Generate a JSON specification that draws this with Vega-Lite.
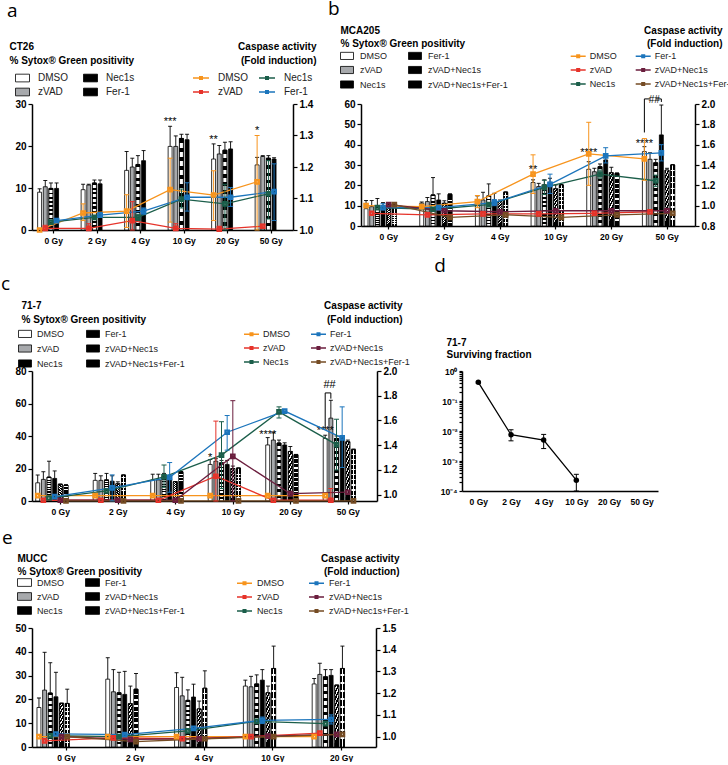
{
"$schema":"https://vega.github.io/schema/vega-lite/v6.json",
"padding":0,
"spacing":12,
"resolve":{"scale":{"fill":"independent","stroke":"independent"},"legend":{"fill":"independent","stroke":"independent"}},
"config":{"font":"Liberation Sans","view":{"stroke":null},
"axis":{"domainColor":"#000","tickColor":"#000","labelColor":"#000","titleColor":"#000","grid":false,"labelFontWeight":"bold","labelFontSize":10,"domainWidth":1.5,"tickWidth":1.2,"tickSize":4,"titleFontSize":10,"titleFontWeight":"bold","labelOverlap":false},
"legend":{"labelFontSize":9,"labelColor":"#222","padding":0,"labelFont":"Liberation Sans"}},
"datasets":{
"a_bars":[
{"d":"0 Gy","t":"DMSO","v":9.0,"e":9.8},{"d":"0 Gy","t":"zVAD","v":10.3,"e":11.8},{"d":"0 Gy","t":"Nec1s","v":9.9,"e":11.2},{"d":"0 Gy","t":"Fer-1","v":9.9,"e":11.2},
{"d":"2 Gy","t":"DMSO","v":9.6,"e":10.9},{"d":"2 Gy","t":"zVAD","v":10.7,"e":10.9},{"d":"2 Gy","t":"Nec1s","v":11.2,"e":11.9},{"d":"2 Gy","t":"Fer-1","v":11.0,"e":11.9},
{"d":"4 Gy","t":"DMSO","v":14.2,"e":18.7},{"d":"4 Gy","t":"zVAD","v":15.0,"e":17.1},{"d":"4 Gy","t":"Nec1s","v":15.6,"e":17.7},{"d":"4 Gy","t":"Fer-1","v":16.5,"e":18.9},
{"d":"10 Gy","t":"DMSO","v":19.9,"e":24.7},{"d":"10 Gy","t":"zVAD","v":19.9,"e":22.4},{"d":"10 Gy","t":"Nec1s","v":21.8,"e":22.8},{"d":"10 Gy","t":"Fer-1","v":21.5,"e":22.8},
{"d":"20 Gy","t":"DMSO","v":16.9,"e":20.5},{"d":"20 Gy","t":"zVAD","v":18.1,"e":20.1},{"d":"20 Gy","t":"Nec1s","v":19.0,"e":20.9},{"d":"20 Gy","t":"Fer-1","v":19.3,"e":21.0},
{"d":"50 Gy","t":"DMSO","v":15.5,"e":17.3},{"d":"50 Gy","t":"zVAD","v":17.5,"e":17.7},{"d":"50 Gy","t":"Nec1s","v":17.1,"e":17.7},{"d":"50 Gy","t":"Fer-1","v":16.9,"e":17.2}],
"a_stars":[{"d":"10 Gy","t":"DMSO","v":25.6,"s":"***"},{"d":"20 Gy","t":"DMSO","v":21.5,"s":"**"},{"d":"50 Gy","t":"DMSO","v":23.6,"s":"*"}],
"a_lines":[
{"d":"0 Gy","t":"DMSO","v":1.0,"lo":1.0,"hi":1.0},{"d":"2 Gy","t":"DMSO","v":1.054,"lo":1.03,"hi":1.083},{"d":"4 Gy","t":"DMSO","v":1.06,"lo":1.008,"hi":1.112},{"d":"10 Gy","t":"DMSO","v":1.128,"lo":1.025,"hi":1.228},{"d":"20 Gy","t":"DMSO","v":1.111,"lo":1.03,"hi":1.188},{"d":"50 Gy","t":"DMSO","v":1.153,"lo":1.0,"hi":1.3},
{"d":"0 Gy","t":"zVAD","v":1.005,"lo":1.0,"hi":1.015},{"d":"2 Gy","t":"zVAD","v":1.005,"lo":1.0,"hi":1.02},{"d":"4 Gy","t":"zVAD","v":1.03,"lo":1.0,"hi":1.09},{"d":"10 Gy","t":"zVAD","v":1.005,"lo":1.0,"hi":1.02},{"d":"20 Gy","t":"zVAD","v":1.003,"lo":1.0,"hi":1.012},{"d":"50 Gy","t":"zVAD","v":1.012,"lo":1.005,"hi":1.018},
{"d":"0 Gy","t":"Nec1s","v":1.025,"lo":1.02,"hi":1.03},{"d":"2 Gy","t":"Nec1s","v":1.04,"lo":1.035,"hi":1.045},{"d":"4 Gy","t":"Nec1s","v":1.04,"lo":1.03,"hi":1.05},{"d":"10 Gy","t":"Nec1s","v":1.098,"lo":1.07,"hi":1.13},{"d":"20 Gy","t":"Nec1s","v":1.083,"lo":1.0,"hi":1.145},{"d":"50 Gy","t":"Nec1s","v":1.115,"lo":1.035,"hi":1.22},
{"d":"0 Gy","t":"Fer-1","v":1.03,"lo":1.025,"hi":1.035},{"d":"2 Gy","t":"Fer-1","v":1.047,"lo":1.04,"hi":1.055},{"d":"4 Gy","t":"Fer-1","v":1.06,"lo":1.05,"hi":1.07},{"d":"10 Gy","t":"Fer-1","v":1.104,"lo":1.06,"hi":1.15},{"d":"20 Gy","t":"Fer-1","v":1.104,"lo":1.075,"hi":1.135},{"d":"50 Gy","t":"Fer-1","v":1.122,"lo":1.03,"hi":1.21}],
"b_bars":[
{"d":"0 Gy","t":"DMSO","v":8.5,"e":12.5},{"d":"0 Gy","t":"zVAD","v":9.5,"e":12.5},{"d":"0 Gy","t":"Nec1s","v":9.5,"e":13.5},{"d":"0 Gy","t":"Fer-1","v":9.5,"e":11.5},{"d":"0 Gy","t":"zVAD+Nec1s","v":10.2,"e":10.8},{"d":"0 Gy","t":"zVAD+Nec1s+Fer-1","v":10.2,"e":10.6},
{"d":"2 Gy","t":"DMSO","v":11.2,"e":11.8},{"d":"2 Gy","t":"zVAD","v":12.0,"e":14.0},{"d":"2 Gy","t":"Nec1s","v":15.3,"e":23.8},{"d":"2 Gy","t":"Fer-1","v":12.8,"e":15.8},{"d":"2 Gy","t":"zVAD+Nec1s","v":11.2,"e":12.4},{"d":"2 Gy","t":"zVAD+Nec1s+Fer-1","v":15.6,"e":15.8},
{"d":"4 Gy","t":"DMSO","v":13.0,"e":14.8},{"d":"4 Gy","t":"zVAD","v":12.8,"e":16.6},{"d":"4 Gy","t":"Nec1s","v":14.8,"e":20.7},{"d":"4 Gy","t":"Fer-1","v":12.3,"e":16.1},{"d":"4 Gy","t":"zVAD+Nec1s","v":12.0,"e":12.8},{"d":"4 Gy","t":"zVAD+Nec1s+Fer-1","v":16.6,"e":16.8},
{"d":"10 Gy","t":"DMSO","v":21.4,"e":22.7},{"d":"10 Gy","t":"zVAD","v":19.4,"e":21.0},{"d":"10 Gy","t":"Nec1s","v":20.2,"e":22.7},{"d":"10 Gy","t":"Fer-1","v":21.5,"e":23.5},{"d":"10 Gy","t":"zVAD+Nec1s","v":18.3,"e":20.2},{"d":"10 Gy","t":"zVAD+Nec1s+Fer-1","v":20.2,"e":20.4},
{"d":"20 Gy","t":"DMSO","v":27.9,"e":31.6},{"d":"20 Gy","t":"zVAD","v":26.7,"e":28.4},{"d":"20 Gy","t":"Nec1s","v":29.2,"e":30.5},{"d":"20 Gy","t":"Fer-1","v":32.5,"e":34.0},{"d":"20 Gy","t":"zVAD+Nec1s","v":26.2,"e":28.9},{"d":"20 Gy","t":"zVAD+Nec1s+Fer-1","v":25.9,"e":26.1},
{"d":"50 Gy","t":"DMSO","v":36.6,"e":39.0},{"d":"50 Gy","t":"zVAD","v":32.8,"e":36.0},{"d":"50 Gy","t":"Nec1s","v":31.1,"e":32.8},{"d":"50 Gy","t":"Fer-1","v":44.8,"e":59.5},{"d":"50 Gy","t":"zVAD+Nec1s","v":27.5,"e":28.4},{"d":"50 Gy","t":"zVAD+Nec1s+Fer-1","v":30.0,"e":30.2}],
"b_stars":[{"d":"10 Gy","t":"DMSO","v":27.5,"s":"**"},{"d":"20 Gy","t":"DMSO","v":35.9,"s":"****"},{"d":"50 Gy","t":"DMSO","v":40.3,"s":"****"}],
"b_br":[{"d":"50 Gy","t":"DMSO","v":46,"g":"L"},{"d":"50 Gy","t":"DMSO","v":62.5,"g":"L"},{"d":"50 Gy","t":"zVAD","v":62.5,"g":"L"},{"d":"50 Gy","t":"Nec1s","v":62.5,"g":"R"},{"d":"50 Gy","t":"Fer-1","v":62.5,"g":"R"},{"d":"50 Gy","t":"Fer-1","v":61,"g":"R"}],
"b_hash":[{"d":"50 Gy","t":"zVAD","v":62.0,"s":"##"}],
"b_lines":[
{"d":"0 Gy","t":"DMSO","v":1.0,"lo":1.0,"hi":1.0},{"d":"2 Gy","t":"DMSO","v":0.99,"lo":0.98,"hi":1.0},{"d":"4 Gy","t":"DMSO","v":1.04,"lo":0.98,"hi":1.1},{"d":"10 Gy","t":"DMSO","v":1.31,"lo":1.12,"hi":1.5},{"d":"20 Gy","t":"DMSO","v":1.51,"lo":1.2,"hi":1.82},{"d":"50 Gy","t":"DMSO","v":1.46,"lo":1.25,"hi":1.66},
{"d":"0 Gy","t":"zVAD","v":0.925,"lo":0.925,"hi":0.925},{"d":"2 Gy","t":"zVAD","v":0.91,"lo":0.905,"hi":0.915},{"d":"4 Gy","t":"zVAD","v":0.92,"lo":0.92,"hi":0.92},{"d":"10 Gy","t":"zVAD","v":0.92,"lo":0.915,"hi":0.925},{"d":"20 Gy","t":"zVAD","v":0.925,"lo":0.925,"hi":0.925},{"d":"50 Gy","t":"zVAD","v":0.94,"lo":0.935,"hi":0.945},
{"d":"0 Gy","t":"Nec1s","v":0.98,"lo":0.98,"hi":0.98},{"d":"2 Gy","t":"Nec1s","v":0.965,"lo":0.965,"hi":0.965},{"d":"4 Gy","t":"Nec1s","v":1.01,"lo":0.99,"hi":1.03},{"d":"10 Gy","t":"Nec1s","v":1.18,"lo":1.11,"hi":1.25},{"d":"20 Gy","t":"Nec1s","v":1.31,"lo":1.27,"hi":1.35},{"d":"50 Gy","t":"Nec1s","v":1.245,"lo":1.19,"hi":1.3},
{"d":"0 Gy","t":"Fer-1","v":0.98,"lo":0.96,"hi":1.02},{"d":"2 Gy","t":"Fer-1","v":0.98,"lo":0.98,"hi":0.98},{"d":"4 Gy","t":"Fer-1","v":1.03,"lo":1.0,"hi":1.06},{"d":"10 Gy","t":"Fer-1","v":1.21,"lo":1.12,"hi":1.31},{"d":"20 Gy","t":"Fer-1","v":1.49,"lo":1.42,"hi":1.57},{"d":"50 Gy","t":"Fer-1","v":1.52,"lo":1.44,"hi":1.6},
{"d":"0 Gy","t":"zVAD+Nec1s","v":1.01,"lo":1.01,"hi":1.01},{"d":"2 Gy","t":"zVAD+Nec1s","v":0.95,"lo":0.95,"hi":0.95},{"d":"4 Gy","t":"zVAD+Nec1s","v":0.94,"lo":0.94,"hi":0.94},{"d":"10 Gy","t":"zVAD+Nec1s","v":0.95,"lo":0.95,"hi":0.95},{"d":"20 Gy","t":"zVAD+Nec1s","v":0.95,"lo":0.95,"hi":0.95},{"d":"50 Gy","t":"zVAD+Nec1s","v":0.95,"lo":0.95,"hi":0.95},
{"d":"0 Gy","t":"zVAD+Nec1s+Fer-1","v":1.01,"lo":1.01,"hi":1.01},{"d":"2 Gy","t":"zVAD+Nec1s+Fer-1","v":0.885,"lo":0.885,"hi":0.885},{"d":"4 Gy","t":"zVAD+Nec1s+Fer-1","v":0.91,"lo":0.91,"hi":0.91},{"d":"10 Gy","t":"zVAD+Nec1s+Fer-1","v":0.885,"lo":0.885,"hi":0.885},{"d":"20 Gy","t":"zVAD+Nec1s+Fer-1","v":0.91,"lo":0.91,"hi":0.91},{"d":"50 Gy","t":"zVAD+Nec1s+Fer-1","v":0.925,"lo":0.925,"hi":0.925}],
"c_bars":[
{"d":"0 Gy","t":"DMSO","v":11.2,"e":16},{"d":"0 Gy","t":"zVAD","v":13.3,"e":18},{"d":"0 Gy","t":"Nec1s","v":14.7,"e":24.5},{"d":"0 Gy","t":"Fer-1","v":13.9,"e":18.5},{"d":"0 Gy","t":"zVAD+Nec1s","v":10.2,"e":10.5},{"d":"0 Gy","t":"zVAD+Nec1s+Fer-1","v":9.8,"e":10},
{"d":"2 Gy","t":"DMSO","v":12.7,"e":17},{"d":"2 Gy","t":"zVAD","v":12.7,"e":15.5},{"d":"2 Gy","t":"Nec1s","v":13,"e":17},{"d":"2 Gy","t":"Fer-1","v":12.2,"e":15.5},{"d":"2 Gy","t":"zVAD+Nec1s","v":10.6,"e":11.8},{"d":"2 Gy","t":"zVAD+Nec1s+Fer-1","v":15.9,"e":16.1},
{"d":"4 Gy","t":"DMSO","v":12.9,"e":16.5},{"d":"4 Gy","t":"zVAD","v":13,"e":16.5},{"d":"4 Gy","t":"Nec1s","v":15.1,"e":17},{"d":"4 Gy","t":"Fer-1","v":13.7,"e":15},{"d":"4 Gy","t":"zVAD+Nec1s","v":11.8,"e":12},{"d":"4 Gy","t":"zVAD+Nec1s+Fer-1","v":18,"e":18.2},
{"d":"10 Gy","t":"DMSO","v":22.5,"e":25.5},{"d":"10 Gy","t":"zVAD","v":24.5,"e":26},{"d":"10 Gy","t":"Nec1s","v":23.5,"e":25},{"d":"10 Gy","t":"Fer-1","v":22.5,"e":25},{"d":"10 Gy","t":"zVAD+Nec1s","v":20,"e":21.5},{"d":"10 Gy","t":"zVAD+Nec1s+Fer-1","v":20.2,"e":20.4},
{"d":"20 Gy","t":"DMSO","v":34.5,"e":39},{"d":"20 Gy","t":"zVAD","v":37.5,"e":42},{"d":"20 Gy","t":"Nec1s","v":35.7,"e":37.5},{"d":"20 Gy","t":"Fer-1","v":34.5,"e":35.8},{"d":"20 Gy","t":"zVAD+Nec1s","v":30.5,"e":33.5},{"d":"20 Gy","t":"zVAD+Nec1s+Fer-1","v":28.5,"e":28.7},
{"d":"50 Gy","t":"DMSO","v":38.5,"e":40.5},{"d":"50 Gy","t":"zVAD","v":51,"e":62},{"d":"50 Gy","t":"Nec1s","v":38.5,"e":40},{"d":"50 Gy","t":"Fer-1","v":39,"e":40},{"d":"50 Gy","t":"zVAD+Nec1s","v":36.5,"e":37.5},{"d":"50 Gy","t":"zVAD+Nec1s+Fer-1","v":31.6,"e":32}],
"c_stars":[{"d":"10 Gy","t":"DMSO","v":26.5,"s":"*"},{"d":"20 Gy","t":"DMSO","v":40.8,"s":"****"},{"d":"50 Gy","t":"DMSO","v":42.9,"s":"****"}],
"c_br":[{"d":"50 Gy","t":"DMSO","v":44},{"d":"50 Gy","t":"DMSO","v":66.5},{"d":"50 Gy","t":"zVAD","v":66.5},{"d":"50 Gy","t":"zVAD","v":63}],
"c_hash":[{"d":"50 Gy","t":"DMSO","v":71.5,"s":"##"}],
"c_lines":[
{"d":"0 Gy","t":"DMSO","v":0.992,"lo":0.992,"hi":0.992},{"d":"2 Gy","t":"DMSO","v":0.992,"lo":0.992,"hi":0.992},{"d":"4 Gy","t":"DMSO","v":0.992,"lo":0.992,"hi":0.992},{"d":"10 Gy","t":"DMSO","v":0.992,"lo":0.992,"hi":0.992},{"d":"20 Gy","t":"DMSO","v":0.992,"lo":0.992,"hi":0.992},{"d":"50 Gy","t":"DMSO","v":0.992,"lo":0.992,"hi":0.992},
{"d":"0 Gy","t":"zVAD","v":0.955,"lo":0.955,"hi":0.955},{"d":"2 Gy","t":"zVAD","v":0.955,"lo":0.955,"hi":0.955},{"d":"4 Gy","t":"zVAD","v":0.955,"lo":0.955,"hi":0.955},{"d":"10 Gy","t":"zVAD","v":1.149,"lo":0.949,"hi":1.595},{"d":"20 Gy","t":"zVAD","v":0.955,"lo":0.955,"hi":0.955},{"d":"50 Gy","t":"zVAD","v":0.955,"lo":0.949,"hi":1.05},
{"d":"0 Gy","t":"Nec1s","v":0.973,"lo":0.973,"hi":0.973},{"d":"2 Gy","t":"Nec1s","v":1.03,"lo":1.03,"hi":1.03},{"d":"4 Gy","t":"Nec1s","v":1.145,"lo":1.06,"hi":1.24},{"d":"10 Gy","t":"Nec1s","v":1.32,"lo":1.05,"hi":1.59},{"d":"20 Gy","t":"Nec1s","v":1.67,"lo":1.62,"hi":1.71},{"d":"50 Gy","t":"Nec1s","v":1.405,"lo":1.2,"hi":1.61},
{"d":"0 Gy","t":"Fer-1","v":0.985,"lo":0.985,"hi":0.985},{"d":"2 Gy","t":"Fer-1","v":1.055,"lo":0.95,"hi":1.16},{"d":"4 Gy","t":"Fer-1","v":1.14,"lo":1.02,"hi":1.26},{"d":"10 Gy","t":"Fer-1","v":1.505,"lo":1.36,"hi":1.64},{"d":"20 Gy","t":"Fer-1","v":1.676,"lo":1.676,"hi":1.676},{"d":"50 Gy","t":"Fer-1","v":1.46,"lo":1.22,"hi":1.71},
{"d":"0 Gy","t":"zVAD+Nec1s","v":0.955,"lo":0.955,"hi":0.955},{"d":"2 Gy","t":"zVAD+Nec1s","v":0.955,"lo":0.955,"hi":0.955},{"d":"4 Gy","t":"zVAD+Nec1s","v":0.955,"lo":0.955,"hi":0.955},{"d":"10 Gy","t":"zVAD+Nec1s","v":1.31,"lo":0.95,"hi":1.76},{"d":"20 Gy","t":"zVAD+Nec1s","v":1.008,"lo":1.008,"hi":1.008},{"d":"50 Gy","t":"zVAD+Nec1s","v":1.02,"lo":1.02,"hi":1.02},
{"d":"0 Gy","t":"zVAD+Nec1s+Fer-1","v":0.95,"lo":0.95,"hi":0.95},{"d":"2 Gy","t":"zVAD+Nec1s+Fer-1","v":0.95,"lo":0.95,"hi":0.95},{"d":"4 Gy","t":"zVAD+Nec1s+Fer-1","v":0.95,"lo":0.95,"hi":0.95},{"d":"10 Gy","t":"zVAD+Nec1s+Fer-1","v":0.95,"lo":0.95,"hi":0.95},{"d":"20 Gy","t":"zVAD+Nec1s+Fer-1","v":0.95,"lo":0.95,"hi":0.95},{"d":"50 Gy","t":"zVAD+Nec1s+Fer-1","v":0.95,"lo":0.95,"hi":0.95}],
"d_sf":[{"d":"0 Gy","v":0.42,"lo":0.39,"hi":0.45},{"d":"2 Gy","v":0.0075,"lo":0.0047,"hi":0.011},{"d":"4 Gy","v":0.005,"lo":0.0026,"hi":0.0077},{"d":"10 Gy","v":0.00023,"lo":0.0001,"hi":0.00036}],
"e_bars":[
{"d":"0 Gy","t":"DMSO","v":16.6,"e":20.6},{"d":"0 Gy","t":"zVAD","v":23.9,"e":39.8},{"d":"0 Gy","t":"Nec1s","v":22.7,"e":35.4},{"d":"0 Gy","t":"Fer-1","v":21.1,"e":31.4},{"d":"0 Gy","t":"zVAD+Nec1s","v":18.3,"e":18.5},{"d":"0 Gy","t":"zVAD+Nec1s+Fer-1","v":18.3,"e":24.3},
{"d":"2 Gy","t":"DMSO","v":28.5,"e":37.5},{"d":"2 Gy","t":"zVAD","v":23.2,"e":32.5},{"d":"2 Gy","t":"Nec1s","v":22.8,"e":31.4},{"d":"2 Gy","t":"Fer-1","v":22.1,"e":31.8},{"d":"2 Gy","t":"zVAD+Nec1s","v":18.2,"e":25.6},{"d":"2 Gy","t":"zVAD+Nec1s+Fer-1","v":24.3,"e":30.9},
{"d":"4 Gy","t":"DMSO","v":25,"e":31.2},{"d":"4 Gy","t":"zVAD","v":21.5,"e":29.3},{"d":"4 Gy","t":"Nec1s","v":19.6,"e":24},{"d":"4 Gy","t":"Fer-1","v":21,"e":26.4},{"d":"4 Gy","t":"zVAD+Nec1s","v":16,"e":19.3},{"d":"4 Gy","t":"zVAD+Nec1s+Fer-1","v":24.7,"e":32},
{"d":"10 Gy","t":"DMSO","v":25.6,"e":28.1},{"d":"10 Gy","t":"zVAD","v":25.3,"e":29.7},{"d":"10 Gy","t":"Nec1s","v":26.5,"e":30.3},{"d":"10 Gy","t":"Fer-1","v":28.1,"e":32.5},{"d":"10 Gy","t":"zVAD+Nec1s","v":22.8,"e":25.6},{"d":"10 Gy","t":"zVAD+Nec1s+Fer-1","v":33,"e":42.4},
{"d":"20 Gy","t":"DMSO","v":26.5,"e":28.8},{"d":"20 Gy","t":"zVAD","v":30.5,"e":35.2},{"d":"20 Gy","t":"Nec1s","v":29.5,"e":32.5},{"d":"20 Gy","t":"Fer-1","v":30.1,"e":32.5},{"d":"20 Gy","t":"zVAD+Nec1s","v":25.9,"e":26.1},{"d":"20 Gy","t":"zVAD+Nec1s+Fer-1","v":33,"e":42.4}],
"e_lines":[
{"d":"0 Gy","t":"DMSO","v":1.0,"lo":1.0,"hi":1.0},{"d":"2 Gy","t":"DMSO","v":1.0,"lo":1.0,"hi":1.0},{"d":"4 Gy","t":"DMSO","v":1.0,"lo":1.0,"hi":1.0},{"d":"10 Gy","t":"DMSO","v":1.0,"lo":1.0,"hi":1.0},{"d":"20 Gy","t":"DMSO","v":1.0,"lo":1.0,"hi":1.0},
{"d":"0 Gy","t":"zVAD","v":0.98,"lo":0.98,"hi":0.98},{"d":"2 Gy","t":"zVAD","v":0.994,"lo":0.994,"hi":0.994},{"d":"4 Gy","t":"zVAD","v":0.99,"lo":0.99,"hi":0.99},{"d":"10 Gy","t":"zVAD","v":1.0,"lo":1.0,"hi":1.0},{"d":"20 Gy","t":"zVAD","v":1.016,"lo":1.016,"hi":1.016},
{"d":"0 Gy","t":"Nec1s","v":1.004,"lo":1.004,"hi":1.004},{"d":"2 Gy","t":"Nec1s","v":1.0,"lo":1.0,"hi":1.0},{"d":"4 Gy","t":"Nec1s","v":1.026,"lo":1.026,"hi":1.026},{"d":"10 Gy","t":"Nec1s","v":1.07,"lo":1.07,"hi":1.07},{"d":"20 Gy","t":"Nec1s","v":1.06,"lo":1.06,"hi":1.06},
{"d":"0 Gy","t":"Fer-1","v":1.012,"lo":1.012,"hi":1.012},{"d":"2 Gy","t":"Fer-1","v":1.009,"lo":1.009,"hi":1.009},{"d":"4 Gy","t":"Fer-1","v":1.038,"lo":1.038,"hi":1.038},{"d":"10 Gy","t":"Fer-1","v":1.075,"lo":1.06,"hi":1.09},{"d":"20 Gy","t":"Fer-1","v":1.079,"lo":1.058,"hi":1.1},
{"d":"0 Gy","t":"zVAD+Nec1s","v":1.0,"lo":1.0,"hi":1.0},{"d":"2 Gy","t":"zVAD+Nec1s","v":0.987,"lo":0.987,"hi":0.987},{"d":"4 Gy","t":"zVAD+Nec1s","v":0.99,"lo":0.99,"hi":0.99},{"d":"10 Gy","t":"zVAD+Nec1s","v":1.002,"lo":1.002,"hi":1.002},{"d":"20 Gy","t":"zVAD+Nec1s","v":1.01,"lo":1.01,"hi":1.01},
{"d":"0 Gy","t":"zVAD+Nec1s+Fer-1","v":1.0,"lo":1.0,"hi":1.0},{"d":"2 Gy","t":"zVAD+Nec1s+Fer-1","v":0.977,"lo":0.977,"hi":0.977},{"d":"4 Gy","t":"zVAD+Nec1s+Fer-1","v":0.99,"lo":0.99,"hi":0.99},{"d":"10 Gy","t":"zVAD+Nec1s+Fer-1","v":1.0,"lo":1.0,"hi":1.0},{"d":"20 Gy","t":"zVAD+Nec1s+Fer-1","v":1.01,"lo":1.01,"hi":1.01}]
},
"vconcat":[
{"resolve":{"scale":{"fill":"independent","stroke":"independent"},"legend":{"fill":"independent","stroke":"independent"}},
"hconcat":[
{"width":261,"height":126,
"title":{"text":"a","anchor":"start","frame":"bounds","font":"Open Sans","fontSize":19,"fontWeight":"normal","baseline":"alphabetic","offset":5,"dx":-2,"color":"#000"},
"encoding":{"x":{"field":"d","type":"nominal","scale":{"domain":["0 Gy","2 Gy","4 Gy","10 Gy","20 Gy","50 Gy"],"paddingInner":0.22,"paddingOuter":0.11},"axis":{"title":null,"labelAngle":0,"labelFontSize":8.5,"tickSize":3,"labelPadding":3}},
"xOffset":{"field":"t","type":"nominal","scale":{"domain":["DMSO","zVAD","Nec1s","Fer-1"],"paddingInner":0.3,"paddingOuter":0.15}}},
"layer":[
{"data":{"name":"a_bars"},
"encoding":{"y":{"field":"v","type":"quantitative","scale":{"domain":[0,30]},"axis":{"orient":"left","values":[0,10,20,30],"title":["CT26","% Sytox® Green positivity"],"titleAngle":0,"titleAlign":"left","titleBaseline":"top","titleX":-23,"titleY":-63,"titleLineHeight":14}}},
"layer":[
{"mark":{"type":"bar","stroke":"#000","strokeWidth":0.8},"encoding":{
"fill":{"field":"t","type":"nominal","scale":{"domain":["DMSO","zVAD","Nec1s","Fer-1"],"range":["#ffffff","#a7a9ac","#000000","#000000"]},
"legend":{"title":null,"orient":"none","legendX":-17,"legendY":-33.5,"columns":2,"columnPadding":13,"rowPadding":1,"symbolType":"M-1,-0.55H1V0.55H-1Z","symbolSize":196,"symbolStrokeColor":"#000","symbolStrokeWidth":0.8,"labelOffset":8,"labelFontSize":10,
"encode":{"symbols":{"update":{"stroke":{"value":"#000"},"strokeWidth":{"value":0.8},"fill":{"signal":"datum.value === 'DMSO' ? '#fff' : datum.value === 'zVAD' ? '#a7a9ac' : datum.value === 'Nec1s' ? {gradient:'linear',x1:0,y1:0,x2:0,y2:1,stops:[{offset:0,color:'#000'},{offset:0.2,color:'#000'},{offset:0.2,color:'#fff'},{offset:0.4,color:'#fff'},{offset:0.4,color:'#000'},{offset:0.6,color:'#000'},{offset:0.6,color:'#fff'},{offset:0.8,color:'#fff'},{offset:0.8,color:'#000'},{offset:1,color:'#000'}]} : '#000'"}}}}}}}},
{"transform":[{"filter":"datum.t == 'Nec1s'"}],"mark":{"type":"bar","stroke":"#000","strokeWidth":0.8,"fill":{"gradient":"linear","x1":0,"y1":0,"x2":0,"y2":1,"stops":[{"offset":0,"color":"#000"},{"offset":0.045,"color":"#000"},{"offset":0.045,"color":"#fff"},{"offset":0.1,"color":"#fff"},{"offset":0.1,"color":"#000"},{"offset":0.145,"color":"#000"},{"offset":0.145,"color":"#fff"},{"offset":0.2,"color":"#fff"},{"offset":0.2,"color":"#000"},{"offset":0.245,"color":"#000"},{"offset":0.245,"color":"#fff"},{"offset":0.3,"color":"#fff"},{"offset":0.3,"color":"#000"},{"offset":0.345,"color":"#000"},{"offset":0.345,"color":"#fff"},{"offset":0.4,"color":"#fff"},{"offset":0.4,"color":"#000"},{"offset":0.445,"color":"#000"},{"offset":0.445,"color":"#fff"},{"offset":0.5,"color":"#fff"},{"offset":0.5,"color":"#000"},{"offset":0.545,"color":"#000"},{"offset":0.545,"color":"#fff"},{"offset":0.6,"color":"#fff"},{"offset":0.6,"color":"#000"},{"offset":0.645,"color":"#000"},{"offset":0.645,"color":"#fff"},{"offset":0.7,"color":"#fff"},{"offset":0.7,"color":"#000"},{"offset":0.745,"color":"#000"},{"offset":0.745,"color":"#fff"},{"offset":0.8,"color":"#fff"},{"offset":0.8,"color":"#000"},{"offset":0.845,"color":"#000"},{"offset":0.845,"color":"#fff"},{"offset":0.9,"color":"#fff"},{"offset":0.9,"color":"#000"},{"offset":0.945,"color":"#000"},{"offset":0.945,"color":"#fff"},{"offset":1,"color":"#fff"}]}}},
{"mark":{"type":"rule","color":"#000","strokeWidth":0.9},"encoding":{"y2":{"field":"e"}}},
{"mark":{"type":"tick","color":"#000","thickness":0.9,"size":4,"opacity":1},"encoding":{"y":{"field":"e","type":"quantitative","axis":{"orient":"left","values":[0,10,20,30],"title":["CT26","% Sytox® Green positivity"],"titleAngle":0,"titleAlign":"left","titleBaseline":"top","titleX":-23,"titleY":-63,"titleLineHeight":14}}}},
{"data":{"name":"a_stars"},"mark":{"type":"text","fontSize":11,"baseline":"middle","color":"#000"},"encoding":{"text":{"field":"s"}}}
]},
{"data":{"name":"a_lines"},
"encoding":{"y":{"field":"v","type":"quantitative","scale":{"domain":[1,1.4]},"axis":{"orient":"right","values":[1,1.1,1.2,1.3,1.4],"format":".1f","title":["Caspase activity","(Fold induction)"],"titleAngle":0,"titleAlign":"right","titleBaseline":"top","titleX":23,"titleY":-63,"titleLineHeight":14}},
"stroke":{"field":"t","type":"nominal","scale":{"domain":["DMSO","zVAD","Nec1s","Fer-1","~"],"range":["#F7941D","#E6332A","#1B5E4A","#1C75BC","#ffffff"]},"legend":{"values":["DMSO","zVAD","Nec1s","Fer-1"],"title":null,"orient":"none","legendX":160,"legendY":-35,"columns":2,"columnPadding":7,"rowPadding":-1,"symbolType":"M-1,0H1M-0.25,-0.15H0.25M-0.25,0H0.25M-0.25,0.15H0.25","symbolSize":256,"symbolStrokeWidth":1.6,"labelOffset":8,"labelFontSize":10}}},
"layer":[
{"mark":{"type":"line","strokeWidth":1.3},"encoding":{"order":{"value":null}}},
{"mark":{"type":"rule","strokeWidth":1},"encoding":{"y":{"field":"lo","type":"quantitative","axis":{"orient":"right","values":[1,1.1,1.2,1.3,1.4],"format":".1f","title":["Caspase activity","(Fold induction)"],"titleAngle":0,"titleAlign":"right","titleBaseline":"top","titleX":23,"titleY":-63,"titleLineHeight":14}},"y2":{"field":"hi"}}},
{"transform":[{"filter":"datum.hi > datum.lo"}],"mark":{"type":"point","shape":"M-1,0H1","filled":false,"size":25,"strokeWidth":1,"opacity":1},"encoding":{"y":{"field":"hi","type":"quantitative","axis":{"orient":"right","values":[1,1.1,1.2,1.3,1.4],"format":".1f","title":["Caspase activity","(Fold induction)"],"titleAngle":0,"titleAlign":"right","titleBaseline":"top","titleX":23,"titleY":-63,"titleLineHeight":14}}}},
{"transform":[{"filter":"datum.hi > datum.lo"}],"mark":{"type":"point","shape":"M-1,0H1","filled":false,"size":25,"strokeWidth":1,"opacity":1},"encoding":{"y":{"field":"lo","type":"quantitative","axis":{"orient":"right","values":[1,1.1,1.2,1.3,1.4],"format":".1f","title":["Caspase activity","(Fold induction)"],"titleAngle":0,"titleAlign":"right","titleBaseline":"top","titleX":23,"titleY":-63,"titleLineHeight":14}}}},
{"mark":{"type":"point","shape":"square","filled":false,"size":12,"strokeWidth":2.2,"opacity":1}}
]}
],
"resolve":{"scale":{"y":"independent"}}},

{"width":334,"height":122,
"title":{"text":"b","anchor":"start","frame":"bounds","font":"Open Sans","fontSize":19,"fontWeight":"normal","baseline":"alphabetic","offset":-9,"dx":-12,"color":"#000"},
"encoding":{"x":{"field":"d","type":"nominal","scale":{"domain":["0 Gy","2 Gy","4 Gy","10 Gy","20 Gy","50 Gy"],"paddingInner":0.08,"paddingOuter":0.04},"axis":{"title":null,"labelAngle":0,"labelFontSize":8.5,"tickSize":3,"labelPadding":3}},
"xOffset":{"field":"t","type":"nominal","scale":{"domain":["DMSO","zVAD","Nec1s","Fer-1","zVAD+Nec1s","zVAD+Nec1s+Fer-1"],"paddingInner":0.3,"paddingOuter":0.15}}},
"layer":[
{"data":{"name":"b_bars"},
"encoding":{"y":{"field":"v","type":"quantitative","scale":{"domain":[0,60]},"axis":{"orient":"left","values":[0,10,20,30,40,50,60],"title":["MCA205","% Sytox® Green positivity"],"titleAngle":0,"titleAlign":"left","titleBaseline":"top","titleX":-21,"titleY":-79,"titleLineHeight":13}}},
"layer":[
{"mark":{"type":"bar","stroke":"#000","strokeWidth":0.8},"encoding":{
"fill":{"field":"t","type":"nominal","scale":{"domain":["DMSO","zVAD","Nec1s","Fer-1","zVAD+Nec1s","zVAD+Nec1s+Fer-1"],"range":["#ffffff","#a7a9ac","#000000","#000000","#000000","#000000"]},
"legend":{"title":null,"orient":"none","legendX":-21,"legendY":-55.5,"columns":2,"columnPadding":19,"rowPadding":1.5,"symbolType":"M-1,-0.55H1V0.55H-1Z","symbolSize":169,"symbolStrokeColor":"#000","symbolStrokeWidth":0.8,"labelOffset":6,
"encode":{"symbols":{"update":{"stroke":{"value":"#000"},"strokeWidth":{"value":0.8},"fill":{"signal":"datum.value === 'DMSO' ? '#fff' : datum.value === 'zVAD' ? '#a7a9ac' : datum.value === 'Nec1s' ? {gradient:'linear',x1:0,y1:0,x2:0,y2:1,stops:[{offset:0,color:'#000'},{offset:0.2,color:'#000'},{offset:0.2,color:'#fff'},{offset:0.4,color:'#fff'},{offset:0.4,color:'#000'},{offset:0.6,color:'#000'},{offset:0.6,color:'#fff'},{offset:0.8,color:'#fff'},{offset:0.8,color:'#000'},{offset:1,color:'#000'}]} : datum.value === 'zVAD+Nec1s' ? {gradient:'linear',x1:0,y1:0,x2:1,y2:0.55,stops:[{offset:0,color:'#000'},{offset:0.15,color:'#000'},{offset:0.15,color:'#fff'},{offset:0.25,color:'#fff'},{offset:0.25,color:'#000'},{offset:0.4,color:'#000'},{offset:0.4,color:'#fff'},{offset:0.5,color:'#fff'},{offset:0.5,color:'#000'},{offset:0.65,color:'#000'},{offset:0.65,color:'#fff'},{offset:0.75,color:'#fff'},{offset:0.75,color:'#000'},{offset:1,color:'#000'}]} : datum.value === 'zVAD+Nec1s+Fer-1' ? {gradient:'linear',x1:0,y1:0,x2:0,y2:1,stops:[{offset:0,color:'#000'},{offset:0.4,color:'#000'},{offset:0.4,color:'#fff'},{offset:0.6,color:'#fff'},{offset:0.6,color:'#000'},{offset:1,color:'#000'}]} : '#000'"}}}}}}}},
{"transform":[{"filter":"datum.t == 'Nec1s'"}],"mark":{"type":"bar","stroke":"#000","strokeWidth":0.8,"fill":{"gradient":"linear","x1":0,"y1":0,"x2":0,"y2":1,"stops":[{"offset":0,"color":"#000"},{"offset":0.045,"color":"#000"},{"offset":0.045,"color":"#fff"},{"offset":0.1,"color":"#fff"},{"offset":0.1,"color":"#000"},{"offset":0.145,"color":"#000"},{"offset":0.145,"color":"#fff"},{"offset":0.2,"color":"#fff"},{"offset":0.2,"color":"#000"},{"offset":0.245,"color":"#000"},{"offset":0.245,"color":"#fff"},{"offset":0.3,"color":"#fff"},{"offset":0.3,"color":"#000"},{"offset":0.345,"color":"#000"},{"offset":0.345,"color":"#fff"},{"offset":0.4,"color":"#fff"},{"offset":0.4,"color":"#000"},{"offset":0.445,"color":"#000"},{"offset":0.445,"color":"#fff"},{"offset":0.5,"color":"#fff"},{"offset":0.5,"color":"#000"},{"offset":0.545,"color":"#000"},{"offset":0.545,"color":"#fff"},{"offset":0.6,"color":"#fff"},{"offset":0.6,"color":"#000"},{"offset":0.645,"color":"#000"},{"offset":0.645,"color":"#fff"},{"offset":0.7,"color":"#fff"},{"offset":0.7,"color":"#000"},{"offset":0.745,"color":"#000"},{"offset":0.745,"color":"#fff"},{"offset":0.8,"color":"#fff"},{"offset":0.8,"color":"#000"},{"offset":0.845,"color":"#000"},{"offset":0.845,"color":"#fff"},{"offset":0.9,"color":"#fff"},{"offset":0.9,"color":"#000"},{"offset":0.945,"color":"#000"},{"offset":0.945,"color":"#fff"},{"offset":1,"color":"#fff"}]}}},
{"transform":[{"filter":"datum.t == 'zVAD+Nec1s'"}],"mark":{"type":"bar","stroke":"#000","strokeWidth":0.8,"fill":{"gradient":"linear","x1":0,"y1":0,"x2":0.15,"y2":1,"stops":[{"offset":0,"color":"#000"},{"offset":0.06,"color":"#000"},{"offset":0.06,"color":"#fff"},{"offset":0.1,"color":"#fff"},{"offset":0.1,"color":"#000"},{"offset":0.16,"color":"#000"},{"offset":0.16,"color":"#fff"},{"offset":0.2,"color":"#fff"},{"offset":0.2,"color":"#000"},{"offset":0.26,"color":"#000"},{"offset":0.26,"color":"#fff"},{"offset":0.3,"color":"#fff"},{"offset":0.3,"color":"#000"},{"offset":0.36,"color":"#000"},{"offset":0.36,"color":"#fff"},{"offset":0.4,"color":"#fff"},{"offset":0.4,"color":"#000"},{"offset":0.46,"color":"#000"},{"offset":0.46,"color":"#fff"},{"offset":0.5,"color":"#fff"},{"offset":0.5,"color":"#000"},{"offset":0.56,"color":"#000"},{"offset":0.56,"color":"#fff"},{"offset":0.6,"color":"#fff"},{"offset":0.6,"color":"#000"},{"offset":0.66,"color":"#000"},{"offset":0.66,"color":"#fff"},{"offset":0.7,"color":"#fff"},{"offset":0.7,"color":"#000"},{"offset":0.76,"color":"#000"},{"offset":0.76,"color":"#fff"},{"offset":0.8,"color":"#fff"},{"offset":0.8,"color":"#000"},{"offset":0.86,"color":"#000"},{"offset":0.86,"color":"#fff"},{"offset":0.9,"color":"#fff"},{"offset":0.9,"color":"#000"},{"offset":1,"color":"#000"}]}}},
{"transform":[{"filter":"datum.t == 'zVAD+Nec1s+Fer-1'"}],"mark":{"type":"bar","stroke":"#000","strokeWidth":0.8,"fill":{"gradient":"linear","x1":0,"y1":0,"x2":1,"y2":0,"stops":[{"offset":0,"color":"#000"},{"offset":0.4,"color":"#000"},{"offset":0.4,"color":"#fff"},{"offset":0.6,"color":"#fff"},{"offset":0.6,"color":"#000"},{"offset":1,"color":"#000"}]}}},
{"transform":[{"filter":"datum.t == 'zVAD+Nec1s+Fer-1'"}],"mark":{"type":"bar","strokeWidth":0,"fill":{"gradient":"linear","x1":0,"y1":0,"x2":0,"y2":1,"stops":[{"offset":0,"color":"rgba(255,255,255,0)"},{"offset":0.075,"color":"rgba(255,255,255,0)"},{"offset":0.075,"color":"#fff"},{"offset":0.1,"color":"#fff"},{"offset":0.1,"color":"rgba(255,255,255,0)"},{"offset":0.175,"color":"rgba(255,255,255,0)"},{"offset":0.175,"color":"#fff"},{"offset":0.2,"color":"#fff"},{"offset":0.2,"color":"rgba(255,255,255,0)"},{"offset":0.275,"color":"rgba(255,255,255,0)"},{"offset":0.275,"color":"#fff"},{"offset":0.3,"color":"#fff"},{"offset":0.3,"color":"rgba(255,255,255,0)"},{"offset":0.375,"color":"rgba(255,255,255,0)"},{"offset":0.375,"color":"#fff"},{"offset":0.4,"color":"#fff"},{"offset":0.4,"color":"rgba(255,255,255,0)"},{"offset":0.475,"color":"rgba(255,255,255,0)"},{"offset":0.475,"color":"#fff"},{"offset":0.5,"color":"#fff"},{"offset":0.5,"color":"rgba(255,255,255,0)"},{"offset":0.575,"color":"rgba(255,255,255,0)"},{"offset":0.575,"color":"#fff"},{"offset":0.6,"color":"#fff"},{"offset":0.6,"color":"rgba(255,255,255,0)"},{"offset":0.675,"color":"rgba(255,255,255,0)"},{"offset":0.675,"color":"#fff"},{"offset":0.7,"color":"#fff"},{"offset":0.7,"color":"rgba(255,255,255,0)"},{"offset":0.775,"color":"rgba(255,255,255,0)"},{"offset":0.775,"color":"#fff"},{"offset":0.8,"color":"#fff"},{"offset":0.8,"color":"rgba(255,255,255,0)"},{"offset":0.875,"color":"rgba(255,255,255,0)"},{"offset":0.875,"color":"#fff"},{"offset":0.9,"color":"#fff"},{"offset":0.9,"color":"rgba(255,255,255,0)"},{"offset":1,"color":"rgba(255,255,255,0)"}]}}},
{"mark":{"type":"rule","color":"#000","strokeWidth":0.9},"encoding":{"y2":{"field":"e"}}},
{"mark":{"type":"tick","color":"#000","thickness":0.9,"size":4,"opacity":1},"encoding":{"y":{"field":"e","type":"quantitative","axis":{"orient":"left","values":[0,10,20,30,40,50,60],"title":["MCA205","% Sytox® Green positivity"],"titleAngle":0,"titleAlign":"left","titleBaseline":"top","titleX":-21,"titleY":-79,"titleLineHeight":13}}}},
{"data":{"name":"b_stars"},"mark":{"type":"text","fontSize":11,"baseline":"middle","color":"#000"},"encoding":{"text":{"field":"s"}}},
{"data":{"name":"b_br"},"mark":{"type":"line","color":"#000","strokeWidth":1},"encoding":{"detail":{"field":"g"},"order":{"value":null}}},
{"data":{"name":"b_hash"},"mark":{"type":"text","fontSize":10,"baseline":"middle","color":"#000","dx":4.3},"encoding":{"text":{"field":"s"}}}
]},
{"data":{"name":"b_lines"},
"encoding":{"y":{"field":"v","type":"quantitative","scale":{"domain":[0.8,2.0]},"axis":{"orient":"right","values":[0.8,1.0,1.2,1.4,1.6,1.8,2.0],"format":".1f","title":["Caspase activity","(Fold induction)"],"titleAngle":0,"titleAlign":"right","titleBaseline":"top","titleX":27,"titleY":-79,"titleLineHeight":13}},
"stroke":{"field":"t","type":"nominal","scale":{"domain":["DMSO","zVAD","Nec1s","Fer-1","zVAD+Nec1s","zVAD+Nec1s+Fer-1","~"],"range":["#F7941D","#E6332A","#1B5E4A","#1C75BC","#6B1E3E","#754C24","#ffffff"]},"legend":{"values":["DMSO","zVAD","Nec1s","Fer-1","zVAD+Nec1s","zVAD+Nec1s+Fer-1"],"title":null,"orient":"none","legendX":208.7,"legendY":-56.5,"columns":2,"columnPadding":15,"rowPadding":0,"symbolType":"M-1,0H1M-0.27,-0.17H0.27M-0.27,0H0.27M-0.27,0.17H0.27","symbolSize":225,"symbolStrokeWidth":1.6,"labelOffset":3}}},
"layer":[
{"mark":{"type":"line","strokeWidth":1.3},"encoding":{"order":{"value":null}}},
{"mark":{"type":"rule","strokeWidth":1},"encoding":{"y":{"field":"lo","type":"quantitative","axis":{"orient":"right","values":[0.8,1.0,1.2,1.4,1.6,1.8,2.0],"format":".1f","title":["Caspase activity","(Fold induction)"],"titleAngle":0,"titleAlign":"right","titleBaseline":"top","titleX":27,"titleY":-79,"titleLineHeight":13}},"y2":{"field":"hi"}}},
{"transform":[{"filter":"datum.hi > datum.lo + 0.011"}],"mark":{"type":"point","shape":"M-1,0H1","filled":false,"size":25,"strokeWidth":1,"opacity":1},"encoding":{"y":{"field":"hi","type":"quantitative","axis":{"orient":"right","values":[0.8,1.0,1.2,1.4,1.6,1.8,2.0],"format":".1f","title":["Caspase activity","(Fold induction)"],"titleAngle":0,"titleAlign":"right","titleBaseline":"top","titleX":27,"titleY":-79,"titleLineHeight":13}}}},
{"transform":[{"filter":"datum.hi > datum.lo + 0.011"}],"mark":{"type":"point","shape":"M-1,0H1","filled":false,"size":25,"strokeWidth":1,"opacity":1},"encoding":{"y":{"field":"lo","type":"quantitative","axis":{"orient":"right","values":[0.8,1.0,1.2,1.4,1.6,1.8,2.0],"format":".1f","title":["Caspase activity","(Fold induction)"],"titleAngle":0,"titleAlign":"right","titleBaseline":"top","titleX":27,"titleY":-79,"titleLineHeight":13}}}},
{"mark":{"type":"point","shape":"square","filled":false,"size":12,"strokeWidth":2.2,"opacity":1}}
]}
],
"resolve":{"scale":{"y":"independent"}}}
],"spacing":12},

{"resolve":{"scale":{"fill":"independent","stroke":"independent"},"legend":{"fill":"independent","stroke":"independent"}},
"spacing":13,
"vconcat":[
{"resolve":{"scale":{"fill":"independent","stroke":"independent"},"legend":{"fill":"independent","stroke":"independent"}},
"hconcat":[
{"width":345,"height":130,
"title":{"text":"c","anchor":"start","frame":"bounds","font":"Open Sans","fontSize":19,"fontWeight":"normal","baseline":"alphabetic","offset":-9,"dx":-14,"color":"#000"},
"encoding":{"x":{"field":"d","type":"nominal","scale":{"domain":["0 Gy","2 Gy","4 Gy","10 Gy","20 Gy","50 Gy"],"paddingInner":0.1,"paddingOuter":0.05},"axis":{"title":null,"labelAngle":0,"labelFontSize":8.5,"tickSize":3,"labelPadding":3}},
"xOffset":{"field":"t","type":"nominal","scale":{"domain":["DMSO","zVAD","Nec1s","Fer-1","zVAD+Nec1s","zVAD+Nec1s+Fer-1"],"paddingInner":0.3,"paddingOuter":0.15}}},
"layer":[
{"data":{"name":"c_bars"},
"encoding":{"y":{"field":"v","type":"quantitative","scale":{"domain":[0,80]},"axis":{"orient":"left","values":[0,20,40,60,80],"title":["71-7","% Sytox® Green positivity"],"titleAngle":0,"titleAlign":"left","titleBaseline":"top","titleX":-11,"titleY":-71,"titleLineHeight":14}}},
"layer":[
{"mark":{"type":"bar","stroke":"#000","strokeWidth":0.8},"encoding":{
"fill":{"field":"t","type":"nominal","scale":{"domain":["DMSO","zVAD","Nec1s","Fer-1","zVAD+Nec1s","zVAD+Nec1s+Fer-1"],"range":["#ffffff","#a7a9ac","#000000","#000000","#000000","#000000"]},
"legend":{"title":null,"orient":"none","legendX":-14,"legendY":-44.5,"columns":2,"columnPadding":20,"rowPadding":2,"symbolType":"M-1,-0.55H1V0.55H-1Z","symbolSize":169,"symbolStrokeColor":"#000","symbolStrokeWidth":0.8,"labelOffset":5,
"encode":{"symbols":{"update":{"stroke":{"value":"#000"},"strokeWidth":{"value":0.8},"fill":{"signal":"datum.value === 'DMSO' ? '#fff' : datum.value === 'zVAD' ? '#a7a9ac' : datum.value === 'Nec1s' ? {gradient:'linear',x1:0,y1:0,x2:0,y2:1,stops:[{offset:0,color:'#000'},{offset:0.2,color:'#000'},{offset:0.2,color:'#fff'},{offset:0.4,color:'#fff'},{offset:0.4,color:'#000'},{offset:0.6,color:'#000'},{offset:0.6,color:'#fff'},{offset:0.8,color:'#fff'},{offset:0.8,color:'#000'},{offset:1,color:'#000'}]} : datum.value === 'zVAD+Nec1s' ? {gradient:'linear',x1:0,y1:0,x2:1,y2:0.55,stops:[{offset:0,color:'#000'},{offset:0.15,color:'#000'},{offset:0.15,color:'#fff'},{offset:0.25,color:'#fff'},{offset:0.25,color:'#000'},{offset:0.4,color:'#000'},{offset:0.4,color:'#fff'},{offset:0.5,color:'#fff'},{offset:0.5,color:'#000'},{offset:0.65,color:'#000'},{offset:0.65,color:'#fff'},{offset:0.75,color:'#fff'},{offset:0.75,color:'#000'},{offset:1,color:'#000'}]} : datum.value === 'zVAD+Nec1s+Fer-1' ? {gradient:'linear',x1:0,y1:0,x2:0,y2:1,stops:[{offset:0,color:'#000'},{offset:0.4,color:'#000'},{offset:0.4,color:'#fff'},{offset:0.6,color:'#fff'},{offset:0.6,color:'#000'},{offset:1,color:'#000'}]} : '#000'"}}}}}}}},
{"transform":[{"filter":"datum.t == 'Nec1s'"}],"mark":{"type":"bar","stroke":"#000","strokeWidth":0.8,"fill":{"gradient":"linear","x1":0,"y1":0,"x2":0,"y2":1,"stops":[{"offset":0,"color":"#000"},{"offset":0.045,"color":"#000"},{"offset":0.045,"color":"#fff"},{"offset":0.1,"color":"#fff"},{"offset":0.1,"color":"#000"},{"offset":0.145,"color":"#000"},{"offset":0.145,"color":"#fff"},{"offset":0.2,"color":"#fff"},{"offset":0.2,"color":"#000"},{"offset":0.245,"color":"#000"},{"offset":0.245,"color":"#fff"},{"offset":0.3,"color":"#fff"},{"offset":0.3,"color":"#000"},{"offset":0.345,"color":"#000"},{"offset":0.345,"color":"#fff"},{"offset":0.4,"color":"#fff"},{"offset":0.4,"color":"#000"},{"offset":0.445,"color":"#000"},{"offset":0.445,"color":"#fff"},{"offset":0.5,"color":"#fff"},{"offset":0.5,"color":"#000"},{"offset":0.545,"color":"#000"},{"offset":0.545,"color":"#fff"},{"offset":0.6,"color":"#fff"},{"offset":0.6,"color":"#000"},{"offset":0.645,"color":"#000"},{"offset":0.645,"color":"#fff"},{"offset":0.7,"color":"#fff"},{"offset":0.7,"color":"#000"},{"offset":0.745,"color":"#000"},{"offset":0.745,"color":"#fff"},{"offset":0.8,"color":"#fff"},{"offset":0.8,"color":"#000"},{"offset":0.845,"color":"#000"},{"offset":0.845,"color":"#fff"},{"offset":0.9,"color":"#fff"},{"offset":0.9,"color":"#000"},{"offset":0.945,"color":"#000"},{"offset":0.945,"color":"#fff"},{"offset":1,"color":"#fff"}]}}},
{"transform":[{"filter":"datum.t == 'zVAD+Nec1s'"}],"mark":{"type":"bar","stroke":"#000","strokeWidth":0.8,"fill":{"gradient":"linear","x1":0,"y1":0,"x2":0.15,"y2":1,"stops":[{"offset":0,"color":"#000"},{"offset":0.06,"color":"#000"},{"offset":0.06,"color":"#fff"},{"offset":0.1,"color":"#fff"},{"offset":0.1,"color":"#000"},{"offset":0.16,"color":"#000"},{"offset":0.16,"color":"#fff"},{"offset":0.2,"color":"#fff"},{"offset":0.2,"color":"#000"},{"offset":0.26,"color":"#000"},{"offset":0.26,"color":"#fff"},{"offset":0.3,"color":"#fff"},{"offset":0.3,"color":"#000"},{"offset":0.36,"color":"#000"},{"offset":0.36,"color":"#fff"},{"offset":0.4,"color":"#fff"},{"offset":0.4,"color":"#000"},{"offset":0.46,"color":"#000"},{"offset":0.46,"color":"#fff"},{"offset":0.5,"color":"#fff"},{"offset":0.5,"color":"#000"},{"offset":0.56,"color":"#000"},{"offset":0.56,"color":"#fff"},{"offset":0.6,"color":"#fff"},{"offset":0.6,"color":"#000"},{"offset":0.66,"color":"#000"},{"offset":0.66,"color":"#fff"},{"offset":0.7,"color":"#fff"},{"offset":0.7,"color":"#000"},{"offset":0.76,"color":"#000"},{"offset":0.76,"color":"#fff"},{"offset":0.8,"color":"#fff"},{"offset":0.8,"color":"#000"},{"offset":0.86,"color":"#000"},{"offset":0.86,"color":"#fff"},{"offset":0.9,"color":"#fff"},{"offset":0.9,"color":"#000"},{"offset":1,"color":"#000"}]}}},
{"transform":[{"filter":"datum.t == 'zVAD+Nec1s+Fer-1'"}],"mark":{"type":"bar","stroke":"#000","strokeWidth":0.8,"fill":{"gradient":"linear","x1":0,"y1":0,"x2":1,"y2":0,"stops":[{"offset":0,"color":"#000"},{"offset":0.4,"color":"#000"},{"offset":0.4,"color":"#fff"},{"offset":0.6,"color":"#fff"},{"offset":0.6,"color":"#000"},{"offset":1,"color":"#000"}]}}},
{"transform":[{"filter":"datum.t == 'zVAD+Nec1s+Fer-1'"}],"mark":{"type":"bar","strokeWidth":0,"fill":{"gradient":"linear","x1":0,"y1":0,"x2":0,"y2":1,"stops":[{"offset":0,"color":"rgba(255,255,255,0)"},{"offset":0.075,"color":"rgba(255,255,255,0)"},{"offset":0.075,"color":"#fff"},{"offset":0.1,"color":"#fff"},{"offset":0.1,"color":"rgba(255,255,255,0)"},{"offset":0.175,"color":"rgba(255,255,255,0)"},{"offset":0.175,"color":"#fff"},{"offset":0.2,"color":"#fff"},{"offset":0.2,"color":"rgba(255,255,255,0)"},{"offset":0.275,"color":"rgba(255,255,255,0)"},{"offset":0.275,"color":"#fff"},{"offset":0.3,"color":"#fff"},{"offset":0.3,"color":"rgba(255,255,255,0)"},{"offset":0.375,"color":"rgba(255,255,255,0)"},{"offset":0.375,"color":"#fff"},{"offset":0.4,"color":"#fff"},{"offset":0.4,"color":"rgba(255,255,255,0)"},{"offset":0.475,"color":"rgba(255,255,255,0)"},{"offset":0.475,"color":"#fff"},{"offset":0.5,"color":"#fff"},{"offset":0.5,"color":"rgba(255,255,255,0)"},{"offset":0.575,"color":"rgba(255,255,255,0)"},{"offset":0.575,"color":"#fff"},{"offset":0.6,"color":"#fff"},{"offset":0.6,"color":"rgba(255,255,255,0)"},{"offset":0.675,"color":"rgba(255,255,255,0)"},{"offset":0.675,"color":"#fff"},{"offset":0.7,"color":"#fff"},{"offset":0.7,"color":"rgba(255,255,255,0)"},{"offset":0.775,"color":"rgba(255,255,255,0)"},{"offset":0.775,"color":"#fff"},{"offset":0.8,"color":"#fff"},{"offset":0.8,"color":"rgba(255,255,255,0)"},{"offset":0.875,"color":"rgba(255,255,255,0)"},{"offset":0.875,"color":"#fff"},{"offset":0.9,"color":"#fff"},{"offset":0.9,"color":"rgba(255,255,255,0)"},{"offset":1,"color":"rgba(255,255,255,0)"}]}}},
{"mark":{"type":"rule","color":"#000","strokeWidth":0.9},"encoding":{"y2":{"field":"e"}}},
{"mark":{"type":"tick","color":"#000","thickness":0.9,"size":4,"opacity":1},"encoding":{"y":{"field":"e","type":"quantitative","axis":{"orient":"left","values":[0,20,40,60,80],"title":["71-7","% Sytox® Green positivity"],"titleAngle":0,"titleAlign":"left","titleBaseline":"top","titleX":-11,"titleY":-71,"titleLineHeight":14}}}},
{"data":{"name":"c_stars"},"mark":{"type":"text","fontSize":11,"baseline":"middle","color":"#000"},"encoding":{"text":{"field":"s"}}},
{"data":{"name":"c_br"},"mark":{"type":"line","color":"#000","strokeWidth":1},"encoding":{"order":{"value":null}}},
{"data":{"name":"c_hash"},"mark":{"type":"text","fontSize":11,"baseline":"middle","color":"#000","dx":4.3},"encoding":{"text":{"field":"s"}}}
]},
{"data":{"name":"c_lines"},
"encoding":{"y":{"field":"v","type":"quantitative","scale":{"domain":[0.949,2.0]},"axis":{"orient":"right","values":[1.0,1.2,1.4,1.6,1.8,2.0],"format":".1f","title":["Caspase activity","(Fold induction)"],"titleAngle":0,"titleAlign":"right","titleBaseline":"top","titleX":25,"titleY":-71,"titleLineHeight":14}},
"stroke":{"field":"t","type":"nominal","scale":{"domain":["DMSO","zVAD","Nec1s","Fer-1","zVAD+Nec1s","zVAD+Nec1s+Fer-1","~"],"range":["#F7941D","#E6332A","#1B5E4A","#1C75BC","#6B1E3E","#754C24","#ffffff"]},"legend":{"values":["DMSO","zVAD","Nec1s","Fer-1","zVAD+Nec1s","zVAD+Nec1s+Fer-1"],"title":null,"orient":"none","legendX":211,"legendY":-45.5,"columns":2,"columnPadding":17,"rowPadding":0,"symbolType":"M-1,0H1M-0.27,-0.17H0.27M-0.27,0H0.27M-0.27,0.17H0.27","symbolSize":225,"symbolStrokeWidth":1.6,"labelOffset":3}}},
"layer":[
{"mark":{"type":"line","strokeWidth":1.3},"encoding":{"order":{"value":null}}},
{"mark":{"type":"rule","strokeWidth":1},"encoding":{"y":{"field":"lo","type":"quantitative","axis":{"orient":"right","values":[1.0,1.2,1.4,1.6,1.8,2.0],"format":".1f","title":["Caspase activity","(Fold induction)"],"titleAngle":0,"titleAlign":"right","titleBaseline":"top","titleX":25,"titleY":-71,"titleLineHeight":14}},"y2":{"field":"hi"}}},
{"transform":[{"filter":"datum.hi > datum.lo"}],"mark":{"type":"point","shape":"M-1,0H1","filled":false,"size":25,"strokeWidth":1,"opacity":1},"encoding":{"y":{"field":"hi","type":"quantitative","axis":{"orient":"right","values":[1.0,1.2,1.4,1.6,1.8,2.0],"format":".1f","title":["Caspase activity","(Fold induction)"],"titleAngle":0,"titleAlign":"right","titleBaseline":"top","titleX":25,"titleY":-71,"titleLineHeight":14}}}},
{"transform":[{"filter":"datum.hi > datum.lo"}],"mark":{"type":"point","shape":"M-1,0H1","filled":false,"size":25,"strokeWidth":1,"opacity":1},"encoding":{"y":{"field":"lo","type":"quantitative","axis":{"orient":"right","values":[1.0,1.2,1.4,1.6,1.8,2.0],"format":".1f","title":["Caspase activity","(Fold induction)"],"titleAngle":0,"titleAlign":"right","titleBaseline":"top","titleX":25,"titleY":-71,"titleLineHeight":14}}}},
{"mark":{"type":"point","shape":"square","filled":false,"size":12,"strokeWidth":2.2,"opacity":1}}
]}
],
"resolve":{"scale":{"y":"independent"}}},

{"width":196,"height":120,
"title":{"text":"d","anchor":"start","frame":"bounds","font":"Open Sans","fontSize":19,"fontWeight":"normal","baseline":"alphabetic","offset":46,"dx":-6,"color":"#000"},
"data":{"name":"d_sf"},
"encoding":{"x":{"field":"d","type":"nominal","scale":{"type":"point","domain":["0 Gy","2 Gy","4 Gy","10 Gy","20 Gy","50 Gy"],"padding":0.5},"axis":{"title":null,"labelAngle":0,"labelFontSize":8.5,"tickSize":0,"labelPadding":6}},
"y":{"field":"v","type":"quantitative","scale":{"type":"log","domain":[0.0001,1]},"axis":{"values":[0.0001,0.0002,0.0003,0.0004,0.0005,0.0006,0.0007,0.0008,0.0009,0.001,0.002,0.003,0.004,0.005,0.006,0.007,0.008,0.009,0.01,0.02,0.03,0.04,0.05,0.06,0.07,0.08,0.09,0.1,0.2,0.3,0.4,0.5,0.6,0.7,0.8,0.9,1],"labelExpr":"datum.value == 1 ? '10⁰' : datum.value == 0.1 ? '10⁻¹' : datum.value == 0.01 ? '10⁻²' : datum.value == 0.001 ? '10⁻³' : datum.value == 0.0001 ? '10⁻⁴' : ''","labelFontSize":8.5,"tickSize":3,"title":["71-7","Surviving fraction"],"titleAngle":0,"titleAlign":"left","titleBaseline":"top","titleX":-16,"titleY":-34,"titleLineHeight":12}}},
"layer":[
{"mark":{"type":"line","color":"#000","strokeWidth":1.3},"encoding":{"order":{"value":null}}},
{"mark":{"type":"rule","color":"#000","strokeWidth":1},"encoding":{"y":{"field":"lo","type":"quantitative","axis":{"values":[0.0001,0.0002,0.0003,0.0004,0.0005,0.0006,0.0007,0.0008,0.0009,0.001,0.002,0.003,0.004,0.005,0.006,0.007,0.008,0.009,0.01,0.02,0.03,0.04,0.05,0.06,0.07,0.08,0.09,0.1,0.2,0.3,0.4,0.5,0.6,0.7,0.8,0.9,1],"labelExpr":"datum.value == 1 ? '10⁰' : datum.value == 0.1 ? '10⁻¹' : datum.value == 0.01 ? '10⁻²' : datum.value == 0.001 ? '10⁻³' : datum.value == 0.0001 ? '10⁻⁴' : ''","labelFontSize":8.5,"tickSize":3,"title":["71-7","Surviving fraction"],"titleAngle":0,"titleAlign":"left","titleBaseline":"top","titleX":-16,"titleY":-34,"titleLineHeight":12}},"y2":{"field":"hi"}}},
{"mark":{"type":"tick","color":"#000","thickness":1,"size":5,"opacity":1},"encoding":{"y":{"field":"hi","type":"quantitative","axis":{"values":[0.0001,0.0002,0.0003,0.0004,0.0005,0.0006,0.0007,0.0008,0.0009,0.001,0.002,0.003,0.004,0.005,0.006,0.007,0.008,0.009,0.01,0.02,0.03,0.04,0.05,0.06,0.07,0.08,0.09,0.1,0.2,0.3,0.4,0.5,0.6,0.7,0.8,0.9,1],"labelExpr":"datum.value == 1 ? '10⁰' : datum.value == 0.1 ? '10⁻¹' : datum.value == 0.01 ? '10⁻²' : datum.value == 0.001 ? '10⁻³' : datum.value == 0.0001 ? '10⁻⁴' : ''","labelFontSize":8.5,"tickSize":3,"title":["71-7","Surviving fraction"],"titleAngle":0,"titleAlign":"left","titleBaseline":"top","titleX":-16,"titleY":-34,"titleLineHeight":12}}}},
{"mark":{"type":"tick","color":"#000","thickness":1,"size":5,"opacity":1},"encoding":{"y":{"field":"lo","type":"quantitative","axis":{"values":[0.0001,0.0002,0.0003,0.0004,0.0005,0.0006,0.0007,0.0008,0.0009,0.001,0.002,0.003,0.004,0.005,0.006,0.007,0.008,0.009,0.01,0.02,0.03,0.04,0.05,0.06,0.07,0.08,0.09,0.1,0.2,0.3,0.4,0.5,0.6,0.7,0.8,0.9,1],"labelExpr":"datum.value == 1 ? '10⁰' : datum.value == 0.1 ? '10⁻¹' : datum.value == 0.01 ? '10⁻²' : datum.value == 0.001 ? '10⁻³' : datum.value == 0.0001 ? '10⁻⁴' : ''","labelFontSize":8.5,"tickSize":3,"title":["71-7","Surviving fraction"],"titleAngle":0,"titleAlign":"left","titleBaseline":"top","titleX":-16,"titleY":-34,"titleLineHeight":12}}}},
{"mark":{"type":"point","filled":true,"color":"#000","size":30,"opacity":1}}
]}
],"spacing":24},

{"width":344,"height":119,
"title":{"text":"e","anchor":"start","frame":"bounds","font":"Open Sans","fontSize":19,"fontWeight":"normal","baseline":"alphabetic","offset":-10,"dx":-13,"color":"#000"},
"encoding":{"x":{"field":"d","type":"nominal","scale":{"domain":["0 Gy","2 Gy","4 Gy","10 Gy","20 Gy"],"paddingInner":0.12,"paddingOuter":0.06},"axis":{"title":null,"labelAngle":0,"labelFontSize":8.5,"tickSize":3,"labelPadding":3}},
"xOffset":{"field":"t","type":"nominal","scale":{"domain":["DMSO","zVAD","Nec1s","Fer-1","zVAD+Nec1s","zVAD+Nec1s+Fer-1"],"paddingInner":0.3,"paddingOuter":0.15}}},
"layer":[
{"data":{"name":"e_bars"},
"encoding":{"y":{"field":"v","type":"quantitative","scale":{"domain":[0,50]},"axis":{"orient":"left","values":[0,10,20,30,40,50],"title":["MUCC","% Sytox® Green positivity"],"titleAngle":0,"titleAlign":"left","titleBaseline":"top","titleX":-15,"titleY":-75,"titleLineHeight":13}}},
"layer":[
{"mark":{"type":"bar","stroke":"#000","strokeWidth":0.8},"encoding":{
"fill":{"field":"t","type":"nominal","scale":{"domain":["DMSO","zVAD","Nec1s","Fer-1","zVAD+Nec1s","zVAD+Nec1s+Fer-1"],"range":["#ffffff","#a7a9ac","#000000","#000000","#000000","#000000"]},
"legend":{"title":null,"orient":"none","legendX":-15,"legendY":-53,"columns":2,"columnPadding":19,"rowPadding":1,"symbolType":"M-1,-0.55H1V0.55H-1Z","symbolSize":196,"symbolStrokeColor":"#000","symbolStrokeWidth":0.8,"labelOffset":5,
"encode":{"symbols":{"update":{"stroke":{"value":"#000"},"strokeWidth":{"value":0.8},"fill":{"signal":"datum.value === 'DMSO' ? '#fff' : datum.value === 'zVAD' ? '#a7a9ac' : datum.value === 'Nec1s' ? {gradient:'linear',x1:0,y1:0,x2:0,y2:1,stops:[{offset:0,color:'#000'},{offset:0.2,color:'#000'},{offset:0.2,color:'#fff'},{offset:0.4,color:'#fff'},{offset:0.4,color:'#000'},{offset:0.6,color:'#000'},{offset:0.6,color:'#fff'},{offset:0.8,color:'#fff'},{offset:0.8,color:'#000'},{offset:1,color:'#000'}]} : datum.value === 'zVAD+Nec1s' ? {gradient:'linear',x1:0,y1:0,x2:1,y2:0.55,stops:[{offset:0,color:'#000'},{offset:0.15,color:'#000'},{offset:0.15,color:'#fff'},{offset:0.25,color:'#fff'},{offset:0.25,color:'#000'},{offset:0.4,color:'#000'},{offset:0.4,color:'#fff'},{offset:0.5,color:'#fff'},{offset:0.5,color:'#000'},{offset:0.65,color:'#000'},{offset:0.65,color:'#fff'},{offset:0.75,color:'#fff'},{offset:0.75,color:'#000'},{offset:1,color:'#000'}]} : datum.value === 'zVAD+Nec1s+Fer-1' ? {gradient:'linear',x1:0,y1:0,x2:0,y2:1,stops:[{offset:0,color:'#000'},{offset:0.4,color:'#000'},{offset:0.4,color:'#fff'},{offset:0.6,color:'#fff'},{offset:0.6,color:'#000'},{offset:1,color:'#000'}]} : '#000'"}}}}}}}},
{"transform":[{"filter":"datum.t == 'Nec1s'"}],"mark":{"type":"bar","stroke":"#000","strokeWidth":0.8,"fill":{"gradient":"linear","x1":0,"y1":0,"x2":0,"y2":1,"stops":[{"offset":0,"color":"#000"},{"offset":0.045,"color":"#000"},{"offset":0.045,"color":"#fff"},{"offset":0.1,"color":"#fff"},{"offset":0.1,"color":"#000"},{"offset":0.145,"color":"#000"},{"offset":0.145,"color":"#fff"},{"offset":0.2,"color":"#fff"},{"offset":0.2,"color":"#000"},{"offset":0.245,"color":"#000"},{"offset":0.245,"color":"#fff"},{"offset":0.3,"color":"#fff"},{"offset":0.3,"color":"#000"},{"offset":0.345,"color":"#000"},{"offset":0.345,"color":"#fff"},{"offset":0.4,"color":"#fff"},{"offset":0.4,"color":"#000"},{"offset":0.445,"color":"#000"},{"offset":0.445,"color":"#fff"},{"offset":0.5,"color":"#fff"},{"offset":0.5,"color":"#000"},{"offset":0.545,"color":"#000"},{"offset":0.545,"color":"#fff"},{"offset":0.6,"color":"#fff"},{"offset":0.6,"color":"#000"},{"offset":0.645,"color":"#000"},{"offset":0.645,"color":"#fff"},{"offset":0.7,"color":"#fff"},{"offset":0.7,"color":"#000"},{"offset":0.745,"color":"#000"},{"offset":0.745,"color":"#fff"},{"offset":0.8,"color":"#fff"},{"offset":0.8,"color":"#000"},{"offset":0.845,"color":"#000"},{"offset":0.845,"color":"#fff"},{"offset":0.9,"color":"#fff"},{"offset":0.9,"color":"#000"},{"offset":0.945,"color":"#000"},{"offset":0.945,"color":"#fff"},{"offset":1,"color":"#fff"}]}}},
{"transform":[{"filter":"datum.t == 'zVAD+Nec1s'"}],"mark":{"type":"bar","stroke":"#000","strokeWidth":0.8,"fill":{"gradient":"linear","x1":0,"y1":0,"x2":0.15,"y2":1,"stops":[{"offset":0,"color":"#000"},{"offset":0.06,"color":"#000"},{"offset":0.06,"color":"#fff"},{"offset":0.1,"color":"#fff"},{"offset":0.1,"color":"#000"},{"offset":0.16,"color":"#000"},{"offset":0.16,"color":"#fff"},{"offset":0.2,"color":"#fff"},{"offset":0.2,"color":"#000"},{"offset":0.26,"color":"#000"},{"offset":0.26,"color":"#fff"},{"offset":0.3,"color":"#fff"},{"offset":0.3,"color":"#000"},{"offset":0.36,"color":"#000"},{"offset":0.36,"color":"#fff"},{"offset":0.4,"color":"#fff"},{"offset":0.4,"color":"#000"},{"offset":0.46,"color":"#000"},{"offset":0.46,"color":"#fff"},{"offset":0.5,"color":"#fff"},{"offset":0.5,"color":"#000"},{"offset":0.56,"color":"#000"},{"offset":0.56,"color":"#fff"},{"offset":0.6,"color":"#fff"},{"offset":0.6,"color":"#000"},{"offset":0.66,"color":"#000"},{"offset":0.66,"color":"#fff"},{"offset":0.7,"color":"#fff"},{"offset":0.7,"color":"#000"},{"offset":0.76,"color":"#000"},{"offset":0.76,"color":"#fff"},{"offset":0.8,"color":"#fff"},{"offset":0.8,"color":"#000"},{"offset":0.86,"color":"#000"},{"offset":0.86,"color":"#fff"},{"offset":0.9,"color":"#fff"},{"offset":0.9,"color":"#000"},{"offset":1,"color":"#000"}]}}},
{"transform":[{"filter":"datum.t == 'zVAD+Nec1s+Fer-1'"}],"mark":{"type":"bar","stroke":"#000","strokeWidth":0.8,"fill":{"gradient":"linear","x1":0,"y1":0,"x2":1,"y2":0,"stops":[{"offset":0,"color":"#000"},{"offset":0.4,"color":"#000"},{"offset":0.4,"color":"#fff"},{"offset":0.6,"color":"#fff"},{"offset":0.6,"color":"#000"},{"offset":1,"color":"#000"}]}}},
{"transform":[{"filter":"datum.t == 'zVAD+Nec1s+Fer-1'"}],"mark":{"type":"bar","strokeWidth":0,"fill":{"gradient":"linear","x1":0,"y1":0,"x2":0,"y2":1,"stops":[{"offset":0,"color":"rgba(255,255,255,0)"},{"offset":0.075,"color":"rgba(255,255,255,0)"},{"offset":0.075,"color":"#fff"},{"offset":0.1,"color":"#fff"},{"offset":0.1,"color":"rgba(255,255,255,0)"},{"offset":0.175,"color":"rgba(255,255,255,0)"},{"offset":0.175,"color":"#fff"},{"offset":0.2,"color":"#fff"},{"offset":0.2,"color":"rgba(255,255,255,0)"},{"offset":0.275,"color":"rgba(255,255,255,0)"},{"offset":0.275,"color":"#fff"},{"offset":0.3,"color":"#fff"},{"offset":0.3,"color":"rgba(255,255,255,0)"},{"offset":0.375,"color":"rgba(255,255,255,0)"},{"offset":0.375,"color":"#fff"},{"offset":0.4,"color":"#fff"},{"offset":0.4,"color":"rgba(255,255,255,0)"},{"offset":0.475,"color":"rgba(255,255,255,0)"},{"offset":0.475,"color":"#fff"},{"offset":0.5,"color":"#fff"},{"offset":0.5,"color":"rgba(255,255,255,0)"},{"offset":0.575,"color":"rgba(255,255,255,0)"},{"offset":0.575,"color":"#fff"},{"offset":0.6,"color":"#fff"},{"offset":0.6,"color":"rgba(255,255,255,0)"},{"offset":0.675,"color":"rgba(255,255,255,0)"},{"offset":0.675,"color":"#fff"},{"offset":0.7,"color":"#fff"},{"offset":0.7,"color":"rgba(255,255,255,0)"},{"offset":0.775,"color":"rgba(255,255,255,0)"},{"offset":0.775,"color":"#fff"},{"offset":0.8,"color":"#fff"},{"offset":0.8,"color":"rgba(255,255,255,0)"},{"offset":0.875,"color":"rgba(255,255,255,0)"},{"offset":0.875,"color":"#fff"},{"offset":0.9,"color":"#fff"},{"offset":0.9,"color":"rgba(255,255,255,0)"},{"offset":1,"color":"rgba(255,255,255,0)"}]}}},
{"mark":{"type":"rule","color":"#000","strokeWidth":0.9},"encoding":{"y2":{"field":"e"}}},
{"mark":{"type":"tick","color":"#000","thickness":0.9,"size":4,"opacity":1},"encoding":{"y":{"field":"e","type":"quantitative","axis":{"orient":"left","values":[0,10,20,30,40,50],"title":["MUCC","% Sytox® Green positivity"],"titleAngle":0,"titleAlign":"left","titleBaseline":"top","titleX":-15,"titleY":-75,"titleLineHeight":13}}}}
]},
{"data":{"name":"e_lines"},
"encoding":{"y":{"field":"v","type":"quantitative","scale":{"domain":[0.952,1.5]},"axis":{"orient":"right","values":[1.0,1.1,1.2,1.3,1.4,1.5],"format":".1f","title":["Caspase activity","(Fold induction)"],"titleAngle":0,"titleAlign":"right","titleBaseline":"top","titleX":23,"titleY":-75,"titleLineHeight":13}},
"stroke":{"field":"t","type":"nominal","scale":{"domain":["DMSO","zVAD","Nec1s","Fer-1","zVAD+Nec1s","zVAD+Nec1s+Fer-1","~"],"range":["#F7941D","#E6332A","#1B5E4A","#1C75BC","#6B1E3E","#754C24","#ffffff"]},"legend":{"values":["DMSO","zVAD","Nec1s","Fer-1","zVAD+Nec1s","zVAD+Nec1s+Fer-1"],"title":null,"orient":"none","legendX":204,"legendY":-53.5,"columns":2,"columnPadding":21,"rowPadding":0,"symbolType":"M-1,0H1M-0.27,-0.17H0.27M-0.27,0H0.27M-0.27,0.17H0.27","symbolSize":225,"symbolStrokeWidth":1.6,"labelOffset":4}}},
"layer":[
{"mark":{"type":"line","strokeWidth":1.3},"encoding":{"order":{"value":null}}},
{"mark":{"type":"rule","strokeWidth":1},"encoding":{"y":{"field":"lo","type":"quantitative","axis":{"orient":"right","values":[1.0,1.1,1.2,1.3,1.4,1.5],"format":".1f","title":["Caspase activity","(Fold induction)"],"titleAngle":0,"titleAlign":"right","titleBaseline":"top","titleX":23,"titleY":-75,"titleLineHeight":13}},"y2":{"field":"hi"}}},
{"transform":[{"filter":"datum.hi > datum.lo"}],"mark":{"type":"point","shape":"M-1,0H1","filled":false,"size":25,"strokeWidth":1,"opacity":1},"encoding":{"y":{"field":"hi","type":"quantitative","axis":{"orient":"right","values":[1.0,1.1,1.2,1.3,1.4,1.5],"format":".1f","title":["Caspase activity","(Fold induction)"],"titleAngle":0,"titleAlign":"right","titleBaseline":"top","titleX":23,"titleY":-75,"titleLineHeight":13}}}},
{"transform":[{"filter":"datum.hi > datum.lo"}],"mark":{"type":"point","shape":"M-1,0H1","filled":false,"size":25,"strokeWidth":1,"opacity":1},"encoding":{"y":{"field":"lo","type":"quantitative","axis":{"orient":"right","values":[1.0,1.1,1.2,1.3,1.4,1.5],"format":".1f","title":["Caspase activity","(Fold induction)"],"titleAngle":0,"titleAlign":"right","titleBaseline":"top","titleX":23,"titleY":-75,"titleLineHeight":13}}}},
{"mark":{"type":"point","shape":"square","filled":false,"size":12,"strokeWidth":2.2,"opacity":1}}
]}
],
"resolve":{"scale":{"y":"independent"}}}
]}
]
}
